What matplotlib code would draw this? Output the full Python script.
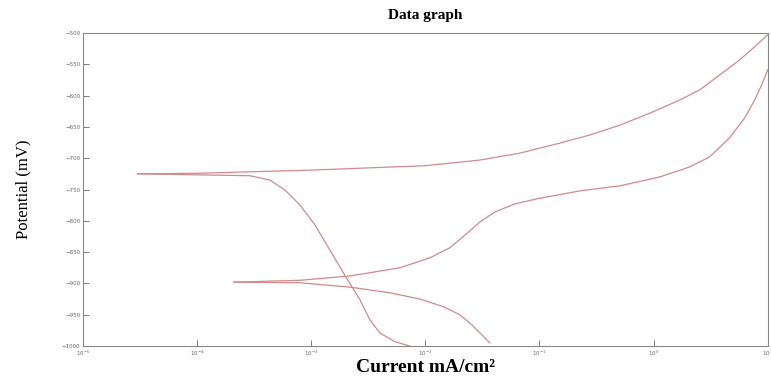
import matplotlib
matplotlib.use('Agg')
import matplotlib.pyplot as plt

# Curve 1 (Ecorr ~ -725 mV)
c1_anodic_i = [3.0e-5, 1.06e-4, 1.0e-3, 1.0e-2, 3.0e-2, 6.7e-2, 1.5e-1, 2.76e-1, 5.1e-1,
               9.3e-1, 1.7, 2.53, 3.8, 5.68, 7.69, 10.0]
c1_anodic_e = [-725, -724, -719, -712, -703, -692, -676, -663, -647,
               -628, -607, -591, -567, -543, -522, -503]
c1_cath_i = [3.0e-5, 2.9e-4, 4.35e-4, 5.9e-4, 8.0e-4, 1.08e-3, 1.46e-3, 1.97e-3,
             2.67e-3, 3.26e-3, 3.99e-3, 5.4e-3, 7.3e-3]
c1_cath_e = [-725, -728, -735, -751, -775, -807, -847, -887,
             -926, -958, -979, -993, -1000]

# Curve 2 (Ecorr ~ -898 mV)
c2_anodic_i = [2.1e-4, 8.0e-4, 2.2e-3, 6.0e-3, 1.1e-2, 1.64e-2, 2.22e-2, 3.0e-2, 4.06e-2,
               6.08e-2, 1.0e-1, 2.3e-1, 5.1e-1, 1.13, 2.07, 3.10, 4.6, 6.28, 7.69, 8.85, 10.0]
c2_anodic_e = [-898, -895, -888, -875, -859, -843, -823, -802, -786,
               -773, -764, -752, -744, -730, -714, -698, -668, -636, -607, -583, -559]
c2_cath_i = [2.1e-4, 8.0e-4, 2.2e-3, 4.89e-3, 9.0e-3, 1.48e-2, 2.0e-2, 2.55e-2, 3.12e-2, 3.67e-2]
c2_cath_e = [-898, -899, -906, -915, -925, -938, -950, -966, -982, -995]

y_ticks = [-500, -550, -600, -650, -700, -750, -800, -850, -900, -950, -1000]
x_ticks = [1e-5, 1e-4, 1e-3, 1e-2, 1e-1, 1e0, 1e1]

line_color = '#d08a8a'

fig = plt.figure(figsize=(7.71, 3.79), dpi=100)
ax = fig.add_axes([0.1077, 0.087, 0.888, 0.826])

for xs, ys in [(c1_anodic_i, c1_anodic_e), (c1_cath_i, c1_cath_e),
               (c2_anodic_i, c2_anodic_e), (c2_cath_i, c2_cath_e)]:
    ax.plot(xs, ys, color=line_color, lw=0.9, solid_joinstyle='round')

ax.set_xscale('log')
ax.set_xlim(1e-5, 1e1)
ax.set_ylim(-1000, -500)
ax.set_xticks(x_ticks)
ax.set_yticks(y_ticks)
ax.minorticks_off()
ax.tick_params(direction='in', length=4, width=0.6, labelsize=4, colors='#666666', pad=2)

for s in ax.spines.values():
    s.set_color('#888888')
    s.set_linewidth(0.8)

ax.set_title('Data graph', fontfamily='Liberation Serif', fontweight='bold', fontsize=11, pad=10)
ax.set_xlabel('Current mA/cm²', fontfamily='Liberation Serif', fontweight='bold', fontsize=14, labelpad=1)
ax.set_ylabel('Potential (mV)', fontfamily='Liberation Serif', fontsize=12, labelpad=22)

fig.savefig('out.png', dpi=100)
